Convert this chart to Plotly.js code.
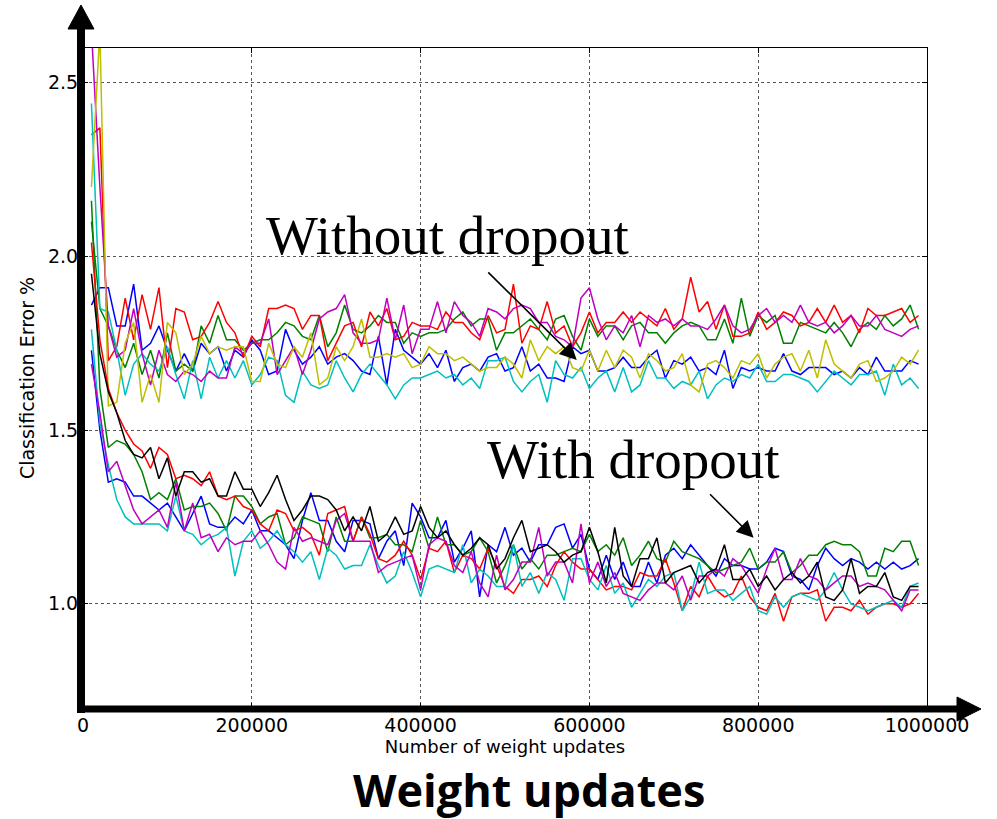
<!DOCTYPE html>
<html>
<head>
<meta charset="utf-8">
<script src="https://cdn.plot.ly/plotly-3.0.1.min.js"></script>
<style>html,body{margin:0;padding:0;background:#fff;}#chart{width:997px;height:819px;}</style>
</head>
<body>
<div id="chart"></div>
<script>
// ---------- DATA ----------
const updates = [10000,20000,30000,40000,50000,60000,70000,80000,90000,100000,
110000,120000,130000,140000,150000,160000,170000,180000,190000,200000,
210000,220000,230000,240000,250000,260000,270000,280000,290000,300000,
310000,320000,330000,340000,350000,360000,370000,380000,390000,400000,
410000,420000,430000,440000,450000,460000,470000,480000,490000,500000,
510000,520000,530000,540000,550000,560000,570000,580000,590000,600000,
610000,620000,630000,640000,650000,660000,670000,680000,690000,700000,
710000,720000,730000,740000,750000,760000,770000,780000,790000,800000,
810000,820000,830000,840000,850000,860000,870000,880000,890000,900000,
910000,920000,930000,940000,950000,960000,970000,980000,990000];

// Without dropout
const noDropRed = [2.35,2.37,1.70,1.74,1.88,1.76,1.89,1.79,1.91,1.68,
1.85,1.84,1.76,1.77,1.81,1.87,1.81,1.78,1.71,1.77,
1.74,1.85,1.85,1.86,1.85,1.79,1.83,1.83,1.70,1.75,
1.80,1.81,1.74,1.84,1.80,1.85,1.76,1.77,1.81,1.80,
1.80,1.79,1.84,1.81,1.81,1.78,1.76,1.83,1.78,1.79,
1.92,1.75,1.80,1.79,1.87,1.78,1.80,1.74,1.78,1.84,
1.78,1.81,1.81,1.84,1.81,1.84,1.82,1.80,1.85,1.79,
1.82,1.94,1.84,1.87,1.79,1.86,1.77,1.77,1.78,1.84,
1.79,1.81,1.84,1.83,1.80,1.81,1.85,1.81,1.86,1.81,
1.83,1.78,1.85,1.83,1.83,1.84,1.85,1.81,1.83];
const noDropGreen = [2.10,1.85,1.80,1.73,1.68,1.75,1.66,1.73,1.65,1.78,
1.67,1.69,1.67,1.80,1.75,1.83,1.76,1.76,1.73,1.75,
1.76,1.76,1.78,1.81,1.80,1.77,1.76,1.83,1.74,1.78,
1.86,1.79,1.78,1.80,1.83,1.81,1.81,1.75,1.78,1.77,
1.78,1.78,1.79,1.82,1.84,1.80,1.82,1.82,1.73,1.78,
1.78,1.80,1.82,1.79,1.76,1.82,1.83,1.77,1.73,1.82,
1.77,1.80,1.80,1.76,1.80,1.81,1.78,1.78,1.75,1.78,
1.80,1.81,1.80,1.76,1.76,1.82,1.75,1.88,1.77,1.83,
1.81,1.83,1.75,1.75,1.81,1.80,1.79,1.78,1.81,1.78,
1.74,1.79,1.81,1.79,1.83,1.80,1.82,1.86,1.79];
const noDropMagenta = [2.65,2.20,1.80,1.71,1.73,1.85,1.72,1.63,1.73,1.66,
1.64,1.67,1.66,1.64,1.67,1.65,1.65,1.74,1.72,1.75,
1.75,1.82,1.66,1.70,1.74,1.66,1.73,1.82,1.84,1.85,
1.89,1.78,1.75,1.75,1.76,1.88,1.76,1.86,1.72,1.79,
1.79,1.87,1.78,1.87,1.83,1.81,1.77,1.85,1.84,1.82,
1.85,1.86,1.85,1.81,1.81,1.77,1.76,1.74,1.88,1.91,
1.82,1.76,1.80,1.78,1.83,1.74,1.83,1.81,1.82,1.80,
1.82,1.80,1.80,1.79,1.82,1.86,1.80,1.78,1.79,1.83,
1.85,1.81,1.83,1.81,1.86,1.81,1.80,1.81,1.78,1.80,
1.83,1.80,1.80,1.83,1.79,1.78,1.77,1.79,1.80];
const noDropBlue = [1.86,1.91,1.91,1.80,1.80,1.92,1.73,1.75,1.80,1.73,
1.67,1.72,1.67,1.75,1.72,1.74,1.67,1.73,1.71,1.76,
1.73,1.66,1.67,1.79,1.73,1.69,1.71,1.74,1.69,1.71,
1.72,1.70,1.67,1.66,1.77,1.63,1.79,1.73,1.71,1.69,
1.72,1.68,1.73,1.64,1.68,1.69,1.67,1.71,1.72,1.67,
1.68,1.74,1.67,1.69,1.65,1.65,1.64,1.74,1.72,1.73,
1.67,1.67,1.68,1.71,1.68,1.68,1.71,1.73,1.65,1.70,
1.69,1.71,1.67,1.68,1.66,1.73,1.62,1.68,1.67,1.68,
1.67,1.67,1.72,1.67,1.66,1.68,1.68,1.68,1.66,1.67,
1.65,1.68,1.66,1.71,1.67,1.67,1.67,1.70,1.69];
const noDropYellow = [2.20,2.65,1.57,1.58,1.75,1.81,1.58,1.66,1.58,1.81,
1.78,1.66,1.69,1.77,1.72,1.74,1.73,1.74,1.74,1.64,
1.64,1.75,1.69,1.68,1.74,1.71,1.78,1.63,1.65,1.74,
1.70,1.74,1.82,1.71,1.71,1.72,1.71,1.72,1.68,1.69,
1.74,1.72,1.72,1.70,1.71,1.69,1.67,1.68,1.68,1.71,
1.69,1.65,1.76,1.70,1.74,1.72,1.74,1.68,1.67,1.73,
1.67,1.73,1.68,1.73,1.71,1.65,1.72,1.70,1.67,1.68,
1.72,1.63,1.61,1.69,1.70,1.68,1.65,1.70,1.69,1.72,
1.65,1.69,1.71,1.72,1.67,1.73,1.65,1.76,1.69,1.67,
1.65,1.69,1.70,1.64,1.65,1.67,1.71,1.69,1.73];
const noDropCyan = [2.44,1.85,1.84,1.73,1.60,1.69,1.72,1.69,1.67,1.74,
1.66,1.59,1.70,1.59,1.71,1.65,1.70,1.65,1.70,1.63,
1.66,1.71,1.70,1.60,1.58,1.67,1.63,1.62,1.63,1.70,
1.65,1.61,1.66,1.69,1.66,1.63,1.59,1.63,1.65,1.65,
1.66,1.67,1.65,1.66,1.63,1.65,1.62,1.70,1.70,1.71,
1.64,1.61,1.64,1.66,1.58,1.70,1.66,1.65,1.68,1.62,
1.65,1.67,1.61,1.68,1.61,1.63,1.70,1.65,1.65,1.62,
1.64,1.63,1.67,1.59,1.63,1.65,1.64,1.66,1.65,1.69,
1.64,1.64,1.66,1.66,1.65,1.64,1.61,1.64,1.67,1.65,
1.63,1.66,1.66,1.67,1.60,1.69,1.63,1.65,1.62];

// With dropout
const dropBlack = [1.95,1.72,1.61,1.55,1.47,1.43,1.42,1.45,1.36,1.42,
1.31,1.38,1.38,1.35,1.36,1.31,1.31,1.38,1.33,1.33,
1.28,1.32,1.37,1.30,1.24,1.27,1.31,1.31,1.30,1.27,
1.21,1.25,1.21,1.28,1.18,1.20,1.25,1.20,1.21,1.28,
1.22,1.19,1.21,1.17,1.14,1.16,1.19,1.17,1.10,1.13,
1.19,1.24,1.15,1.16,1.17,1.15,1.12,1.14,1.15,1.22,
1.15,1.06,1.22,1.08,1.05,1.13,1.13,1.19,1.06,1.09,
1.10,1.11,1.06,1.09,1.10,1.17,1.07,1.07,1.10,1.05,
1.08,1.04,1.07,1.09,1.06,1.08,1.12,1.02,1.01,1.04,
1.13,1.03,1.05,1.05,1.09,1.02,1.01,1.05,1.05];
const dropRed = [2.04,1.76,1.62,1.55,1.50,1.46,1.44,1.39,1.45,1.43,
1.36,1.37,1.36,1.34,1.38,1.31,1.30,1.31,1.28,1.27,
1.23,1.21,1.27,1.26,1.21,1.22,1.20,1.14,1.26,1.27,
1.28,1.18,1.25,1.20,1.13,1.12,1.14,1.18,1.14,1.07,
1.16,1.15,1.18,1.09,1.14,1.13,1.10,1.16,1.11,1.05,
1.03,1.07,1.07,1.08,1.05,1.11,1.15,1.12,1.10,1.10,
1.07,1.04,1.05,1.05,1.04,1.09,1.08,1.08,1.13,1.06,
0.98,1.05,1.02,1.08,1.04,1.02,1.03,1.08,1.02,0.99,
0.98,1.03,0.95,1.02,1.03,1.03,1.04,0.95,0.99,0.99,
0.98,1.01,0.97,0.99,1.00,1.00,0.99,1.00,1.03];
const dropGreen = [2.16,1.62,1.45,1.47,1.46,1.43,1.38,1.30,1.32,1.30,
1.36,1.27,1.28,1.28,1.29,1.26,1.21,1.31,1.31,1.28,
1.23,1.25,1.26,1.17,1.19,1.25,1.24,1.23,1.15,1.25,
1.18,1.18,1.25,1.19,1.19,1.20,1.17,1.17,1.15,1.24,
1.16,1.25,1.17,1.17,1.14,1.15,1.19,1.15,1.06,1.11,
1.17,1.10,1.13,1.10,1.14,1.14,1.15,1.16,1.15,1.20,
1.15,1.17,1.14,1.19,1.11,1.14,1.18,1.13,1.12,1.18,
1.15,1.14,1.13,1.11,1.09,1.10,1.11,1.12,1.16,1.10,
1.12,1.12,1.15,1.09,1.11,1.14,1.14,1.17,1.18,1.17,
1.17,1.15,1.08,1.08,1.16,1.15,1.18,1.18,1.11];
const dropBlue = [1.73,1.50,1.35,1.36,1.35,1.31,1.31,1.29,1.27,1.29,
1.25,1.21,1.26,1.31,1.23,1.22,1.22,1.25,1.23,1.27,
1.21,1.21,1.19,1.17,1.13,1.24,1.32,1.24,1.24,1.18,
1.15,1.24,1.24,1.23,1.13,1.18,1.21,1.11,1.29,1.25,
1.19,1.19,1.24,1.12,1.16,1.21,1.02,1.17,1.15,1.22,
1.14,1.16,1.12,1.17,1.17,1.22,1.23,1.16,1.20,1.10,
1.07,1.14,1.07,1.12,1.05,1.05,1.12,1.06,1.14,1.16,
1.13,1.17,1.14,1.11,1.08,1.13,1.11,1.11,1.10,1.10,
1.12,1.16,1.15,1.08,1.07,1.04,1.11,1.16,1.13,1.11,
1.13,1.12,1.10,1.12,1.10,1.12,1.10,1.11,1.13];
const dropMagenta = [1.69,1.55,1.38,1.41,1.34,1.27,1.23,1.25,1.27,1.22,
1.35,1.21,1.29,1.19,1.20,1.15,1.19,1.17,1.18,1.18,
1.21,1.17,1.12,1.10,1.22,1.18,1.19,1.18,1.17,1.24,
1.26,1.18,1.18,1.18,1.09,1.11,1.12,1.13,1.14,1.04,
1.17,1.19,1.18,1.11,1.09,1.15,1.06,1.02,1.14,1.04,
1.07,1.12,1.12,1.22,1.08,1.12,1.12,1.06,1.23,1.06,
1.12,1.05,1.09,1.03,1.02,1.01,1.04,1.06,1.06,1.04,
1.08,1.01,1.08,1.08,1.10,1.08,1.13,1.11,1.07,1.03,
1.10,1.16,1.07,1.07,1.13,1.08,1.07,1.04,1.06,1.08,
1.08,1.05,1.06,1.05,1.04,1.01,0.98,1.04,1.04];
const dropCyan = [1.79,1.52,1.40,1.30,1.25,1.23,1.23,1.23,1.23,1.21,
1.31,1.21,1.20,1.17,1.19,1.20,1.22,1.08,1.18,1.21,
1.16,1.18,1.21,1.17,1.15,1.12,1.15,1.07,1.16,1.14,
1.10,1.11,1.11,1.17,1.11,1.06,1.08,1.15,1.09,1.02,
1.10,1.11,1.10,1.09,1.17,1.06,1.10,1.08,1.05,1.05,
1.17,1.05,1.09,1.03,1.09,1.07,1.01,1.13,1.13,1.07,
1.04,1.11,1.03,1.06,0.99,1.03,1.07,1.05,1.08,1.09,
0.98,1.02,1.12,1.03,1.04,1.04,1.01,1.03,1.05,0.98,
0.97,1.02,0.99,1.02,1.03,1.02,1.01,1.04,1.09,1.04,
1.00,0.99,0.98,0.99,1.00,1.01,0.99,1.05,1.06];

const xTickVals = [0,200000,400000,600000,800000,1000000];
const xTickText = ['0','200000','400000','600000','800000','1000000'];
const yTickVals = [1.0,1.5,2.0,2.5];
const yTickText = ['1.0','1.5','2.0','2.5'];

// ---------- STYLE ----------
const C = {b:'#0000ff', g:'#008000', r:'#ff0000', c:'#00bfbf', m:'#bf00bf', y:'#bfbf00', k:'#000000'};
const seriesList = [
  [noDropBlue, C.b], [noDropGreen, C.g], [noDropRed, C.r], [noDropCyan, C.c], [noDropMagenta, C.m], [noDropYellow, C.y],
  [dropBlue, C.b], [dropGreen, C.g], [dropRed, C.r], [dropCyan, C.c], [dropMagenta, C.m], [dropBlack, C.k]
];
const traces = seriesList.map(([vals, col]) => ({
  x: updates, y: vals, type: 'scatter', mode: 'lines',
  line: {color: col, width: 1.5}, hoverinfo: 'skip', showlegend: false
}));

// plot area in pixels: x 83..927, y 48..708
const L = 83, R = 927, T = 48, B = 708;
const px = v => (v - L) / (R - L);
const py = v => (B - v) / (B - T);

const shapes = [
  {type:'line', xref:'paper', yref:'paper', x0:px(81), x1:px(81), y0:py(713), y1:py(26), line:{color:'black', width:8}, layer:'above'},
  {type:'path', xref:'paper', yref:'paper', path:`M ${px(68)} ${py(29)} L ${px(94)} ${py(29)} L ${px(81)} ${py(5)} Z`, fillcolor:'black', line:{color:'black', width:1}, layer:'above'},
  {type:'line', xref:'paper', yref:'paper', x0:px(77), x1:px(960), y0:py(709), y1:py(709), line:{color:'black', width:7}, layer:'above'},
  {type:'path', xref:'paper', yref:'paper', path:`M ${px(957)} ${py(697)} L ${px(957)} ${py(721)} L ${px(981)} ${py(709)} Z`, fillcolor:'black', line:{color:'black', width:1}, layer:'above'}
];

const serif = 'Liberation Serif, Times New Roman, serif';
const annotations = [
  {xref:'x', yref:'y', x:432000, y:2.06, text:'Without dropout', showarrow:false, xanchor:'center', yanchor:'middle', font:{family:serif, size:55, color:'black'}},
  {xref:'x', yref:'y', x:652500, y:1.415, text:'With dropout', showarrow:false, xanchor:'center', yanchor:'middle', font:{family:serif, size:55, color:'black'}},
  {xref:'x', yref:'y', x:585000, y:1.702, ax:-90, ay:-89, text:'', showarrow:true, arrowhead:2, arrowsize:2.1, arrowwidth:1.6, arrowcolor:'black', standoff:0},
  {xref:'x', yref:'y', x:794500, y:1.19, ax:-45, ay:-45, text:'', showarrow:true, arrowhead:2, arrowsize:2.1, arrowwidth:1.6, arrowcolor:'black', standoff:0},
  {xref:'paper', yref:'paper', x:px(529), y:py(789), text:'<b>Weight updates</b>', showarrow:false, xanchor:'center', yanchor:'middle', borderpad:0, font:{family:'Open Sans, Noto Sans, sans-serif', size:45, color:'black'}}
];

const tickFont = {family:'DejaVu Sans, sans-serif', size:19, color:'black'};
const layout = {
  width: 997, height: 819,
  margin: {l: L, r: 997 - R, t: T, b: 819 - B, pad: 0},
  paper_bgcolor: 'white', plot_bgcolor: 'white',
  showlegend: false,
  xaxis: {
    range: [0, 1000000], tickvals: xTickVals, ticktext: xTickText,
    showgrid: true, gridcolor: '#555', griddash: 'dot', gridwidth: 1,
    zeroline: false, showline: true, mirror: 'ticks', linecolor: 'black', linewidth: 1,
    ticks: 'inside', ticklen: 5, tickcolor: 'black', tickfont: tickFont,
    title: {text: 'Number of weight updates', font: {family:'DejaVu Sans, sans-serif', size:18, color:'black'}, standoff: 1},
    automargin: false, fixedrange: true
  },
  yaxis: {
    range: [0.7, 2.6], tickvals: yTickVals, ticktext: yTickText,
    showgrid: true, gridcolor: '#555', griddash: 'dot', gridwidth: 1,
    zeroline: false, showline: true, mirror: 'ticks', linecolor: 'black', linewidth: 1,
    ticks: 'inside', ticklen: 5, tickcolor: 'black', tickfont: tickFont,
    title: {text: 'Classification Error %', font: {family:'DejaVu Sans, sans-serif', size:19, color:'black'}, standoff: 8},
    automargin: false, fixedrange: true
  },
  shapes: shapes,
  annotations: annotations
};

Plotly.newPlot('chart', traces, layout, {displayModeBar: false, staticPlot: true});
</script>
</body>
</html>
